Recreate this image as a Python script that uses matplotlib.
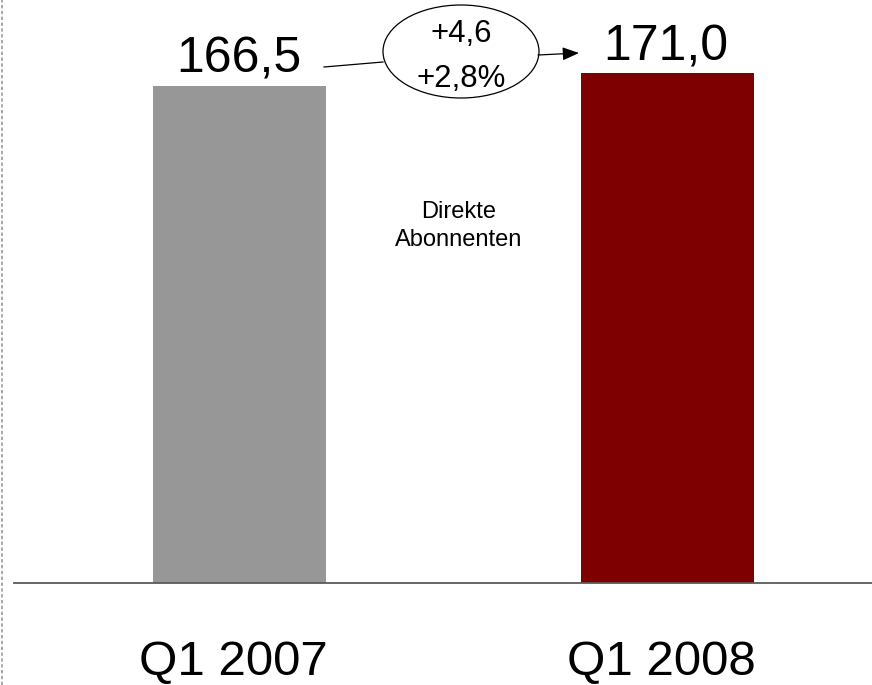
import matplotlib
matplotlib.use("Agg")
import matplotlib.pyplot as plt
from matplotlib.patches import Ellipse
from matplotlib.lines import Line2D

plt.rcParams['font.family'] = ['Liberation Sans', 'DejaVu Sans']

# Data
categories = ["Q1 2007", "Q1 2008"]
values = [166.5, 171.0]
value_labels = ["166,5", "171,0"]
bar_colors = ["#979797", "#7f0000"]
delta_labels = ["+4,6", "+2,8%"]
segment_label = "Direkte\nAbonnenten"

W, H = 872, 685
fig = plt.figure(figsize=(W / 100, H / 100), dpi=100)

# Axes fills the figure above the baseline; y=0 sits on the baseline
base_px = 583          # baseline, pixels from top
px_per_unit = 2.983    # vertical scale
c0_px, step_px = 239.5, 427.5  # bar centres in pixels
ax = fig.add_axes([0, (H - base_px) / H, 1, base_px / H])
ax.set_ylim(0, base_px / px_per_unit)
ax.set_xlim(-c0_px / step_px, (W - c0_px) / step_px)
ax.axis("off")

x = list(range(len(categories)))
bar_w = 173 / step_px
ax.bar(x, values, width=bar_w, color=bar_colors, zorder=2)

# Baseline
ax.axhline(0, xmin=14 / W, xmax=1, color="#5a5a5a", lw=1.3, zorder=3, clip_on=False)

# Value labels above the bars
for xi, v, lab, off in zip(x, values, value_labels, [14, 12]):
    ax.annotate(lab, (xi, v), xytext=(-1, off), textcoords="offset pixels",
                ha="center", va="baseline", fontsize=36, color="black")

# Category labels below the baseline
for xi, cat in zip(x, categories):
    ax.annotate(cat, (xi, 0), xytext=(-6, -(675 - base_px)), textcoords="offset pixels",
                ha="center", va="baseline", fontsize=35.5, color="black",
                annotation_clip=False)

# Change bubble with connector arrow
def px_to_data(px, py):
    return (px - c0_px) / step_px, (base_px - py) / px_per_unit

ex, ey = px_to_data(461, 51.5)
ell = Ellipse((ex, ey), width=156 / step_px, height=93 / px_per_unit,
              facecolor="white", edgecolor="black", lw=0.9, zorder=4, clip_on=False)
ax.add_patch(ell)
ax.add_line(Line2D(*zip(px_to_data(324, 67), px_to_data(383, 62)),
                   color="black", lw=0.9, zorder=4))
ax.annotate("", xy=px_to_data(579, 53), xytext=px_to_data(538, 55),
            arrowprops=dict(arrowstyle="-|>,head_length=1.0,head_width=0.4",
                            color="black", lw=0.9, shrinkA=0, shrinkB=0), zorder=4)
tx, ty1 = px_to_data(461, 34)
_, ty2 = px_to_data(460, 79)
ax.text(tx, ty1, delta_labels[0], ha="center", va="center", fontsize=22.5, zorder=5)
ax.text(tx, ty2, delta_labels[1], ha="center", va="center", fontsize=22.5, zorder=5)

# Segment note
sx, sy = px_to_data(459, 226)
ax.text(sx, sy, segment_label, ha="center", va="center", fontsize=17,
        linespacing=1.38, color="black")

# Dotted frame edge on the left
fig.add_artist(Line2D([1.5 / W, 1.5 / W], [0, 1], transform=fig.transFigure,
                      color="#9a9a9a", lw=1.2, linestyle=(0, (2, 1.5))))

fig.savefig("out.png", dpi=100)
